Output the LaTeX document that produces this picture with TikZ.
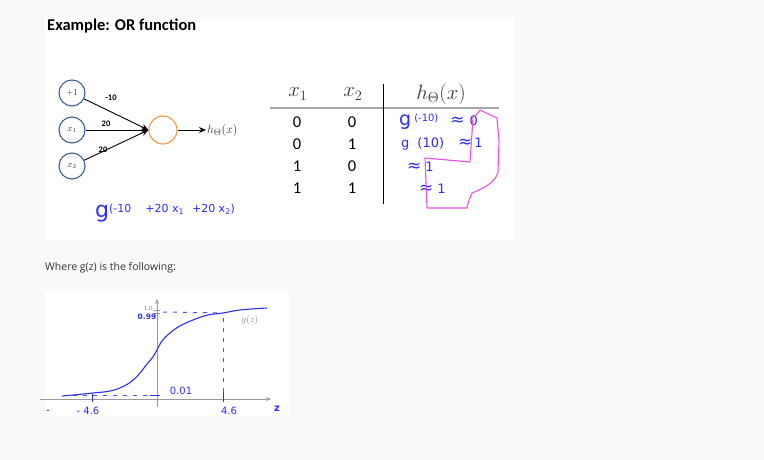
\documentclass[tikz,border=0pt]{standalone}
\usepackage{fontspec}
\setmainfont{Carlito}
\newfontfamily\opensans{Open Sans}
\newfontfamily\hwfont{DejaVu Sans}
\usetikzlibrary{arrows.meta}
\definecolor{pagebg}{HTML}{F9F9F9}
\definecolor{inblue}{HTML}{3D6197}
\definecolor{outorange}{HTML}{F79646}
\definecolor{hwblue}{HTML}{2E2EF5}
\definecolor{hwpink}{HTML}{F050E6}
\definecolor{mathgray}{HTML}{3A3A3A}
\tikzset{
  inp/.style={circle,draw=inblue,line width=1.1pt,minimum size=26pt,inner sep=0pt,text=mathgray,font=\fontsize{9}{9}\selectfont},
  outn/.style={circle,draw=outorange,line width=1.1pt,minimum size=28pt,inner sep=0pt},
  wire/.style={-{Stealth[length=7pt,width=6pt]},line width=0.9pt,black},
  wlabel/.style={font=\bfseries\fontsize{8.5}{9}\selectfont,inner sep=0pt},
  hdr/.style={text=mathgray,font=\fontsize{20}{20}\selectfont,inner sep=0pt},
  cell/.style={font=\fontsize{16.5}{16.5}\selectfont,inner sep=0pt},
  hw/.style={text=hwblue,font=\hwfont\fontsize{13}{13}\selectfont,inner sep=0pt,anchor=west},
  hwdash/.style={draw=hwblue!85,line width=1pt,dash pattern=on 4pt off 6pt},
  axis/.style={draw=gray!80,line width=0.8pt},
  hwlab/.style={inner sep=0pt,text=hwblue,font=\hwfont\fontsize{10}{10}\selectfont},
}
\newcommand{\hwsup}[1]{\raisebox{4pt}{\fontsize{10}{10}\selectfont #1}}
\newcommand{\hwapprox}{{\fontsize{17}{13}\selectfont ≈}}
\begin{document}
\begin{tikzpicture}[x=1pt,y=-1pt]
\useasboundingbox (0,0) rectangle (764,460);
\fill[pagebg] (0,0) rectangle (764,460);
\fill[white] (45,17) rectangle (514,241);
\fill[white] (45,292) rectangle (289,416);

% title
\node[anchor=west,inner sep=0pt,font=\bfseries\fontsize{16.5}{16.5}\selectfont] (title) at (47,26) {Example: OR function};

% network
\node[inp] (b) at (72,93) {$+1$};
\node[inp] (x1) at (72,130) {$x_1$};
\node[inp] (x2) at (72,166) {$x_2$};
\node[outn] (o) at (163,130) {};
\coordinate (out) at (206,130);
\draw[wire] (b) -- (o.west);
\draw[wire] (x1) -- (o.west);
\draw[wire] (x2) -- (o.west);
\draw[wire] (o) -- (out);
\node[anchor=west,inner sep=1pt,text=mathgray,font=\fontsize{12.5}{12.5}\selectfont] (h) at (out) {$h_\Theta(x)$};
\node[wlabel] (l1) at (111,98) {-10};
\node[wlabel] (l2) at (106,124) {20};
\node[wlabel] (l3) at (103,150) {20};

% table
\node[hdr] (hx1) at (298,94) {$x_1$};
\node[hdr] (hx2) at (353,94) {$x_2$};
\node[hdr] (hh) at (441,94) {$h_\Theta(x)$};
\coordinate (hl) at (270,108);
\coordinate (hr) at (499,108);
\draw[gray!70,line width=1.3pt] (hl) -- (hr);
\coordinate (vt) at (383,84);
\coordinate (vb) at (383,204);
\draw[black,line width=0.8pt] (vt) -- (vb);
\node[cell] (a1) at (297,122) {0};
\node[cell] (b1) at (352,122) {0};
\node[cell] (a2) at (297,144) {0};
\node[cell] (b2) at (352,144) {1};
\node[cell] (a3) at (297,166) {1};
\node[cell] (b3) at (352,166) {0};
\node[cell] (a4) at (297,188) {1};
\node[cell] (b4) at (352,188) {1};

\node[hw] (r1) at (399,122) {{\fontsize{19}{19}\selectfont g}\hspace{3pt}\hwsup{(-10)}\hspace{12pt}\hwapprox\hspace{5pt}0};
\node[hw] (r2) at (401,144) {g\hspace{8pt}(10)\hspace{14pt}\hwapprox\hspace{2pt}1};
\node[hw] (r3) at (407,167) {\hwapprox\hspace{4pt}1};
\node[hw] (r4) at (419,189) {\hwapprox\hspace{4pt}1};

\draw[hwpink,line width=1.1pt,line join=round]
  (477,114) -- (480,110) -- (497,118) -- (499,140) -- (498,173)
  .. controls (494,182) and (487,187) .. (472,193)
  -- (468,203) -- (467,208) -- (427,208) -- (425,158) -- (470,162)
  -- (472,133) -- (473,117) -- cycle;

% formula
\node[hw] (f) at (95,213) {{\fontsize{22}{22}\selectfont g}\raisebox{5pt}{\fontsize{11}{11}\selectfont (-10\hspace{14pt}+20 x\textsubscript{1}\hspace{8pt}+20 x\textsubscript{2})}};

% caption
\node[anchor=west,inner sep=0pt,text=black!80,font=\opensans\fontsize{10.5}{11}\selectfont] (cap) at (45,268) {Where g(z) is the following:};

% sigmoid plot
\coordinate (xa0) at (40,399);
\coordinate (xa1) at (271,399);
\coordinate (ya0) at (157,407);
\coordinate (ya1) at (157,299);
\draw[axis,-{Stealth[length=5pt,width=4pt]}] (xa0) -- (xa1);
\draw[axis,-{Stealth[length=5pt,width=4pt]}] (ya0) -- (ya1);
\draw[gray!80,line width=0.6pt] (154,310) -- (160,310) (154,313) -- (160,313);
\node[inner sep=0pt,text=gray,font=\fontsize{6.5}{6.5}\selectfont] (one) at (148,308) {1.0};
\node[inner sep=0pt,text=hwblue,font=\hwfont\bfseries\fontsize{7.5}{7.5}\selectfont] (p99) at (147,317) {0.99};

\draw[hwdash] (163,312) -- (223,313);
\draw[hwdash] (223,318) -- (223,394);
\draw[hwdash] (73,395) -- (154,395);
\draw[hwblue,line width=0.9pt] (150,395) -- (160,395);
\draw[hwblue,line width=0.9pt] (92,394) -- (92,402);
\draw[hwblue,line width=0.9pt] (223,392) -- (223,402);

\draw[hwblue,line width=1.1pt] plot[smooth,tension=0.7] coordinates {
  (62,396) (73,395) (93,393) (110,391) (122,387) (132,381) (140,373) (147,364) (153,357) (157,350)
  (162,341) (170,333) (180,326) (193,320) (208,315) (223,313) (240,310) (267,308)};

\node[hwlab] (p01) at (181,391) {0.01};
\node[hwlab] (m46) at (88,411) {- 4.6};
\node[hwlab] (p46) at (229,411) {4.6};
\node[inner sep=0pt,text=hwblue,font=\hwfont\bfseries\fontsize{10}{10}\selectfont] (zl) at (277,409) {z};
\node[inner sep=0pt,text=gray,font=\fontsize{9.5}{9.5}\selectfont] (gz) at (250,320) {$g(z)$};
\draw[hwblue,line width=0.8pt] (47,410) -- (49,410);
\end{tikzpicture}
\end{document}
